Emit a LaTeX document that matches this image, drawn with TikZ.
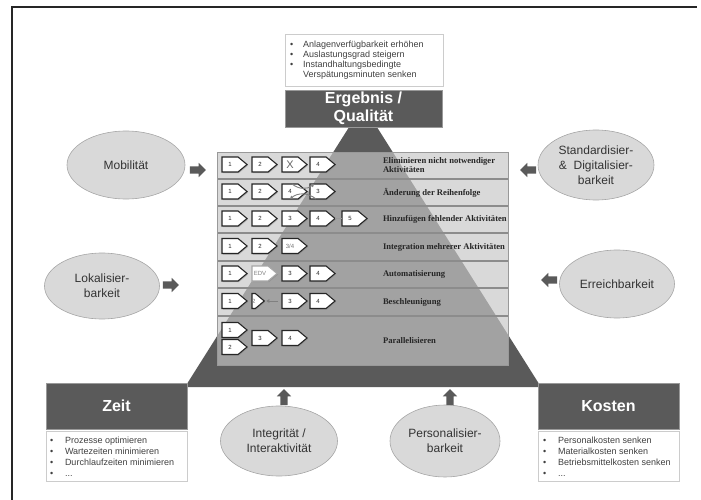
\documentclass[tikz,border=0pt]{standalone}
\usepackage{fontspec}
\setmainfont{Liberation Sans}
\newfontfamily\serifb{Liberation Serif}
\usetikzlibrary{shapes.symbols,shapes.arrows,shapes.geometric,arrows.meta,shadows}
\definecolor{dk}{HTML}{5A5A5A}
\definecolor{lt}{HTML}{D9D9D9}
\definecolor{md}{HTML}{A2A2A2}
\begin{document}
\begin{tikzpicture}[x=1pt,y=-1pt,
 every node/.style={inner sep=0pt, outer sep=0pt},
 pent/.style={signal, signal to=east, signal from=nowhere, draw=black!85, line width=1.1pt, fill=white, minimum width=25pt, minimum height=15pt, signal pointer angle=80, font=\fontsize{6}{6}\selectfont, text=black!85, anchor=west, drop shadow={shadow xshift=1pt, shadow yshift=-1pt, opacity=0.45}},
 rowlbl/.style={font=\serifb\bfseries\fontsize{8.6}{9}\selectfont, text=black!85, anchor=west, align=left},
 oval/.style={ellipse, draw=black!35, line width=0.6pt, fill=lt, font=\fontsize{12}{15}\selectfont, text=black!80, align=center},
 barrow/.style={single arrow, fill=dk, minimum height=16pt, inner sep=3.5pt, single arrow head extend=3.5pt},
 hdr/.style={fill=dk, draw=black!40, line width=0.6pt, text=white, font=\bfseries\fontsize{16}{18}\selectfont, align=center},
 bulbox/.style={fill=white, draw=black!20, line width=0.6pt},
 bul/.style={font=\fontsize{9}{10}\selectfont, text=black!75, anchor=base west},
 sep/.style={black!45, line width=1.3pt},
 smallarr/.style={black!50, line width=0.9pt, -{Triangle[length=3pt,width=3.5pt]}},
]
\useasboundingbox (0,0) rectangle (701,500);
% frame
\draw[black!85, line width=2pt] (12,500) -- (12,7) -- (697,7);
% pyramid
\coordinate (apex) at (363,105);
\coordinate (bl) at (185,387);
\coordinate (br) at (541,387);
\fill[dk] (apex) -- (br) -- (bl) -- cycle;
% table
\fill[lt] (217,152) rectangle (508,365);
\begin{scope}
\clip (217,152) rectangle (508,365);
\fill[md] (apex) -- (br) -- (bl) -- cycle;
\end{scope}
\foreach \yy in {179,206,233,261,288,316} {\draw[sep] (217,\yy) -- (508,\yy);}
\draw[black!40, line width=0.8pt] (217,152) rectangle (508,365);
% row 1
\node[pent] (r1c1) at (222,164.5) {1};
\node[pent] (r1c2) at (252,164.5) {2};
\node[pent, font=\fontsize{11}{11}\selectfont, text=black!60] (r1c3) at (282,164.5) {X};
\node[pent] (r1c4) at (310,164.5) {4};
\node[rowlbl] (l1) at (383,165.5) {Eliminieren nicht notwendiger\\Aktivitäten};
% row 2
\node[pent] (r2c1) at (222,191.5) {1};
\node[pent] (r2c2) at (252,191.5) {2};
\node[pent] (r2c3) at (282,191.5) {4};
\node[pent] (r2c4) at (310,191.5) {3};
\draw[smallarr] ([xshift=-6pt]r2c3.north east) to[bend right=40] ([xshift=4pt]r2c4.north west);
\draw[smallarr] ([xshift=6pt]r2c4.south west) to[bend right=40] ([xshift=-8pt]r2c3.south east);
\node[rowlbl] (l2) at (383,192.5) {Änderung der Reihenfolge};
% row 3
\node[pent] (r3c1) at (222,218.5) {1};
\node[pent] (r3c2) at (252,218.5) {2};
\node[pent] (r3c3) at (282,218.5) {3};
\node[pent] (r3c4) at (310,218.5) {4};
\node[pent] (r3c5) at (342,218.5) {5};
\draw[black!40, line width=1.5pt] (r3c4.east) -- (r3c5.west);
\node[rowlbl] (l3) at (383,219.5) {Hinzufügen fehlender Aktivitäten};
% row 4
\node[pent] (r4c1) at (222,246) {1};
\node[pent] (r4c2) at (252,246) {2};
\node[pent, text=black!55] (r4c3) at (282,246) {3/4};
\node[rowlbl] (l4) at (383,247) {Integration mehrerer Aktivitäten};
% row 5
\node[pent] (r5c1) at (222,273.5) {1};
\node[pent, draw=black!35, text=black!50] (r5c2) at (252,273.5) {EDV};
\node[pent] (r5c3) at (282,273.5) {3};
\node[pent] (r5c4) at (310,273.5) {4};
\node[rowlbl] (l5) at (383,274.5) {Automatisierung};
% row 6
\node[pent] (r6c1) at (222,301) {1};
\node[pent, minimum width=12pt, text=black!55] (r6c2) at (252,301) {2};
\coordinate (r6a) at (278,301);
\draw[smallarr] (r6a) -- ([xshift=2pt]r6c2.east);
\node[pent] (r6c3) at (282,301) {3};
\node[pent] (r6c4) at (310,301) {4};
\node[rowlbl] (l6) at (383,302) {Beschleunigung};
% row 7
\node[pent] (r7c1) at (222,330) {1};
\node[pent] (r7c2) at (222,347) {2};
\node[pent] (r7c3) at (252,338) {3};
\node[pent] (r7c4) at (282,338) {4};
\node[rowlbl] (l7) at (383,340.5) {Parallelisieren};
% top box
\node[bulbox, minimum width=158pt, minimum height=52pt] (topbox) at (364,60) {};
\node[bul] (tb1) at (290,48) {•};
\node[bul] (tt1) at (303,48) {Anlagenverfügbarkeit erhöhen};
\node[bul] (tb2) at (290,58) {•};
\node[bul] (tt2) at (303,58) {Auslastungsgrad steigern};
\node[bul] (tb3) at (290,68) {•};
\node[bul] (tt3) at (303,68) {Instandhaltungsbedingte};
\node[bul] (tt4) at (303,78) {Verspätungsminuten senken};
\node[hdr, minimum width=157pt, minimum height=37pt] (erg) at (363.5,108.5) {Ergebnis /\\Qualität};
% Zeit
\node[hdr, minimum width=141pt, minimum height=46pt] (zeit) at (116.5,406) {Zeit};
\node[bulbox, minimum width=141pt, minimum height=50pt, anchor=north] (zbox) at (116.5,431) {};
\node[bul] (zb1) at (50,443) {•};
\node[bul] (zt1) at (65,443) {Prozesse optimieren};
\node[bul] (zb2) at (50,454) {•};
\node[bul] (zt2) at (65,454) {Wartezeiten minimieren};
\node[bul] (zb3) at (50,465) {•};
\node[bul] (zt3) at (65,465) {Durchlaufzeiten minimieren};
\node[bul] (zb4) at (50,476) {•};
\node[bul] (zt4) at (65,476) {...};
% Kosten
\node[hdr, minimum width=141pt, minimum height=46pt] (kosten) at (608.5,406) {Kosten};
\node[bulbox, minimum width=141pt, minimum height=50pt, anchor=north] (kbox) at (608.5,431) {};
\node[bul] (kb1) at (543,443) {•};
\node[bul] (kt1) at (558,443) {Personalkosten senken};
\node[bul] (kb2) at (543,454) {•};
\node[bul] (kt2) at (558,454) {Materialkosten senken};
\node[bul] (kb3) at (543,465) {•};
\node[bul] (kt3) at (558,465) {Betriebsmittelkosten senken};
\node[bul] (kb4) at (543,476) {•};
\node[bul] (kt4) at (558,476) {...};
% ellipses
\node[oval, minimum width=118pt, minimum height=68pt] (mob) at (126,165) {Mobilität};
\node[oval, minimum width=115pt, minimum height=66pt] (lok) at (102,286) {Lokalisier-\\barkeit};
\node[oval, minimum width=116pt, minimum height=70pt] (std) at (596,165) {Standardisier-\\\&\ \ Digitalisier-\\barkeit};
\node[oval, minimum width=115pt, minimum height=68pt] (err) at (617,284) {Erreichbarkeit};
\node[oval, minimum width=117pt, minimum height=70pt] (int) at (279,441) {Integrität /\\Interaktivität};
\node[oval, minimum width=110pt, minimum height=72pt] (per) at (445,441) {Personalisier-\\barkeit};
% block arrows
\node[barrow] (amob) at (196,170) {};
\node[barrow] (alok) at (169,285) {};
\node[barrow, shape border rotate=180] (astd) at (530,170) {};
\node[barrow, shape border rotate=180] (aerr) at (551,280) {};
\node[barrow, shape border rotate=90] (aint) at (284,399) {};
\node[barrow, shape border rotate=90] (aper) at (450,399) {};
\end{tikzpicture}
\end{document}
